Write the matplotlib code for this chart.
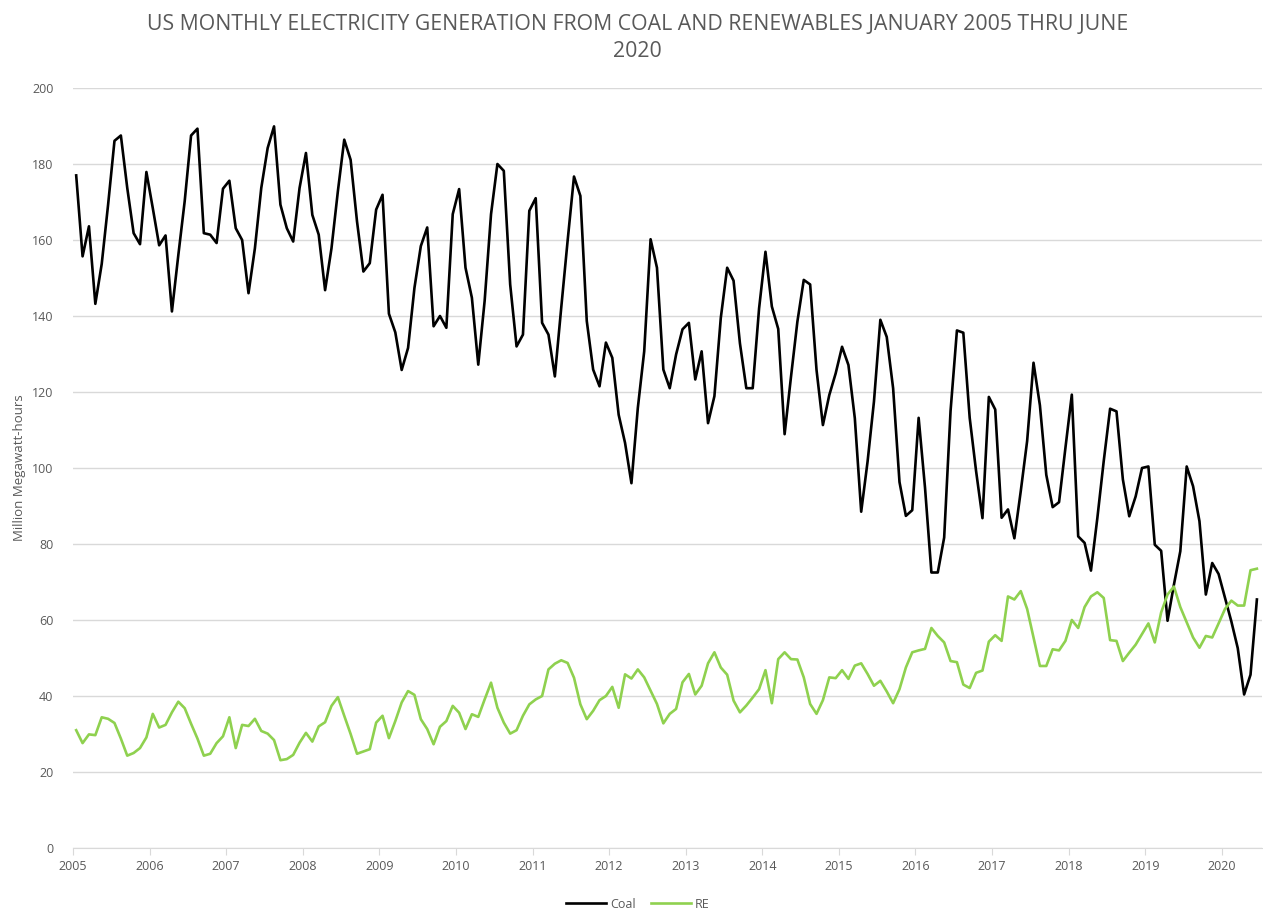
#!/usr/bin/env python3
"""US monthly electricity generation from coal and renewables, Jan 2005 - Jun 2020."""

import matplotlib
matplotlib.use('Agg')
import matplotlib.pyplot as plt
import numpy as np

plt.rcParams['font.family'] = ['Open Sans', 'DejaVu Sans']

# million MWh per month, Jan 2005 .. Jun 2020
coal = [
    177.0, 155.7, 163.6, 143.2, 153.7, 169.3, 186.1, 187.5, 173.7, 161.8, 158.9, 177.9,  # 2005
    168.4, 158.6, 161.2, 141.2, 156.0, 170.2, 187.5, 189.3, 161.8, 161.4, 159.2, 173.5,  # 2006
    175.6, 163.1, 160.0, 146.0, 157.8, 173.7, 184.2, 189.9, 169.3, 163.1, 159.6, 173.7,  # 2007
    182.9, 166.6, 161.4, 146.8, 157.8, 172.8, 186.4, 181.1, 164.9, 151.7, 153.9, 168.0,  # 2008
    171.9, 140.6, 135.7, 125.8, 131.6, 147.4, 158.4, 163.3, 137.3, 140.0, 136.9, 166.8,  # 2009
    173.4, 152.7, 144.8, 127.2, 144.0, 166.8, 180.0, 178.2, 148.3, 132.0, 135.1, 167.7,  # 2010
    171.0, 138.2, 135.1, 124.1, 142.2, 159.8, 176.7, 171.6, 138.7, 125.9, 121.5, 133.0,  # 2011
    129.0, 114.0, 106.6, 96.0, 115.8, 130.7, 160.2, 152.7, 125.9, 121.0, 129.9, 136.5,   # 2012
    138.2, 123.3, 130.7, 111.8, 118.9, 139.5, 152.7, 149.3, 132.8, 121.0, 121.0, 142.0,  # 2013
    156.9, 142.5, 136.6, 108.9, 124.0, 138.5, 149.5, 148.3, 125.8, 111.3, 119.2, 124.9,  # 2014
    131.9, 127.1, 113.1, 88.5, 101.7, 117.5, 139.0, 134.5, 121.0, 96.3, 87.4, 88.9,      # 2015
    113.2, 94.8, 72.5, 72.5, 81.7, 115.0, 136.2, 135.6, 113.2, 99.2, 86.8, 118.7,        # 2016
    115.4, 86.9, 89.1, 81.5, 93.9, 107.1, 127.7, 116.5, 98.2, 89.7, 91.0, 105.3,         # 2017
    119.3, 82.0, 80.3, 73.0, 86.8, 101.8, 115.6, 114.9, 97.0, 87.3, 92.5, 100.0,         # 2018
    100.4, 79.8, 78.2, 59.8, 69.3, 78.1, 100.4, 95.2, 86.0, 66.7, 75.0, 72.1,            # 2019
    65.8, 59.6, 52.6, 40.4, 45.6, 65.4,                                                  # 2020
]

renewables = [
    31.0, 27.6, 29.9, 29.7, 34.4, 34.0, 32.9, 28.8, 24.3, 25.0, 26.3, 29.1,  # 2005
    35.3, 31.7, 32.4, 35.7, 38.5, 36.8, 32.7, 28.8, 24.3, 24.8, 27.6, 29.4,  # 2006
    34.4, 26.3, 32.4, 32.1, 34.0, 30.8, 30.1, 28.4, 23.1, 23.4, 24.5, 27.7,  # 2007
    30.3, 28.0, 32.0, 33.1, 37.4, 39.7, 34.8, 30.0, 24.8, 25.4, 26.0, 33.0,  # 2008
    34.8, 28.9, 33.4, 38.3, 41.3, 40.3, 33.9, 31.3, 27.3, 31.9, 33.4, 37.4,  # 2009
    35.6, 31.3, 35.2, 34.5, 39.1, 43.5, 36.9, 33.0, 30.1, 31.0, 34.8, 37.8,  # 2010
    39.1, 40.0, 47.0, 48.5, 49.4, 48.7, 44.8, 37.8, 33.9, 36.1, 38.9, 40.0,  # 2011
    42.4, 36.9, 45.7, 44.6, 47.0, 44.9, 41.4, 37.9, 32.8, 35.3, 36.6, 43.6,  # 2012
    45.8, 40.4, 42.7, 48.6, 51.5, 47.5, 45.6, 38.8, 35.7, 37.5, 39.6, 41.8,  # 2013
    46.8, 38.1, 49.7, 51.5, 49.7, 49.6, 44.9, 37.9, 35.3, 38.9, 44.9, 44.7,  # 2014
    46.8, 44.5, 48.0, 48.6, 45.8, 42.7, 44.0, 41.2, 38.1, 41.8, 47.5, 51.5,  # 2015
    52.0, 52.4, 57.9, 55.8, 54.1, 49.2, 48.9, 43.0, 42.1, 46.1, 46.7, 54.3,  # 2016
    56.0, 54.5, 66.2, 65.4, 67.6, 62.9, 55.4, 47.9, 47.9, 52.3, 52.0, 54.5,  # 2017
    60.0, 57.9, 63.4, 66.2, 67.3, 65.8, 54.7, 54.5, 49.2, 51.4, 53.5, 56.3,  # 2018
    59.1, 54.1, 62.0, 66.7, 68.8, 63.4, 59.4, 55.4, 52.7, 55.8, 55.4, 59.1,  # 2019
    62.9, 65.1, 63.8, 63.8, 73.1, 73.5,                                      # 2020
]

years = list(range(2005, 2021))

GREY = '#595959'
months = np.arange(len(coal))

fig = plt.figure(figsize=(12.63, 9.11), dpi=100)
ax = fig.add_axes([73 / 1263, 63 / 911, 1189 / 1263, 760 / 911])

ax.plot(months, coal, color='black', lw=1.9, label='Coal', solid_joinstyle='round')
ax.plot(months, renewables, color='#8fd14f', lw=1.9, label='RE', solid_joinstyle='round')

ax.set_xlim(-0.5, len(coal) - 0.2)
ax.set_ylim(0, 200)
ax.set_yticks(range(0, 201, 20))
ax.set_xticks([12 * k - 0.5 for k in range(len(years))])
ax.set_xticklabels([str(y) for y in years])

ax.grid(axis='y', color='#d9d9d9', lw=1)
ax.set_axisbelow(True)
for s in ['top', 'right', 'left']:
    ax.spines[s].set_visible(False)
ax.spines['bottom'].set_color('#d9d9d9')
ax.tick_params(axis='y', length=0, labelsize=9, colors=GREY, pad=14)
ax.tick_params(axis='x', length=5, color='#d9d9d9', labelsize=9, labelcolor=GREY, pad=4)

ax.set_ylabel('Million Megawatt-hours', color=GREY, fontsize=9.5, labelpad=4)

fig.text(0.505, 0.985, 'US MONTHLY ELECTRICITY GENERATION FROM COAL AND RENEWABLES JANUARY 2005 THRU JUNE\n2020',
         ha='center', va='top', fontsize=15.3, color=GREY, linespacing=1.42)

fig.legend(loc='lower center', bbox_to_anchor=(0.505, -0.012), ncol=2, frameon=False,
           fontsize=9, handlelength=3.2, columnspacing=1.2, handletextpad=0.3, labelcolor=GREY)

plt.savefig('out.png', dpi=100)
plt.close()
print('Saved: out.png')
